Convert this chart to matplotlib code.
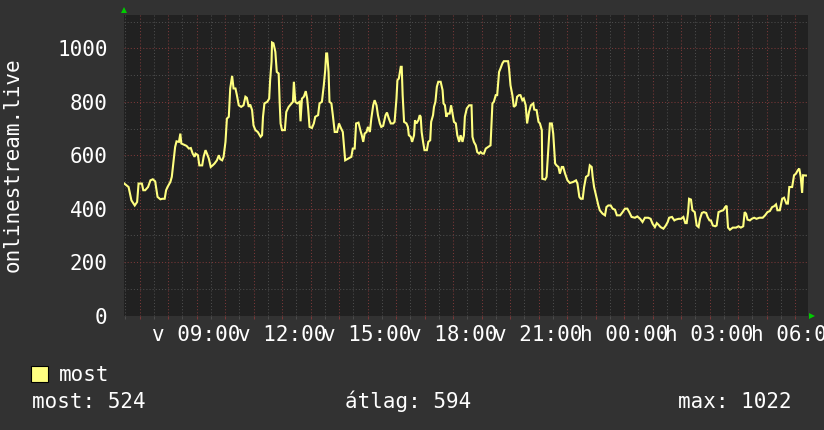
import numpy as np
import matplotlib
matplotlib.use("Agg")
import matplotlib.pyplot as plt
from matplotlib.patches import Rectangle
from matplotlib.ticker import MultipleLocator, FuncFormatter

# graph window starts at 06:28 on "v" (Sunday) and covers 24 hours
START_HOUR = 6 + 28 / 60

# minutes since start / listeners
minutes = [
    0, 9, 15, 22, 27, 30, 37, 40, 44, 50,
    55, 60, 65, 70, 76, 80, 85, 88, 91, 97,
    100, 104, 107, 110, 115, 118, 120, 125, 131, 136,
    140, 144, 148, 150, 155, 158, 164, 167, 171, 174,
    178, 182, 186, 190, 195, 199, 202, 206, 209, 213,
    216, 220, 223, 227, 230, 234, 237, 241, 246, 251,
    255, 258, 262, 265, 269, 272, 276, 281, 287, 290,
    292, 295, 301, 305, 307, 310, 311, 314, 318, 321,
    325, 327, 329, 332, 338, 341, 346, 352, 355, 357,
    360, 364, 369, 371, 374, 378, 382, 385, 387, 390,
    395, 399, 402, 408, 411, 416, 420, 423, 425, 427,
    430, 432, 436, 439, 443, 448, 452, 455, 460, 463,
    465, 471, 478, 481, 485, 488, 493, 498, 500, 503,
    506, 510, 513, 517, 520, 524, 527, 531, 534, 538,
    541, 545, 550, 553, 557, 561, 566, 569, 573, 575,
    578, 582, 584, 586, 589, 594, 597, 599, 603, 606,
    610, 612, 615, 619, 622, 624, 626, 629, 632, 637,
    640, 644, 646, 650, 652, 655, 658, 661, 666, 670,
    672, 675, 678, 681, 685, 688, 691, 694, 698, 701,
    705, 708, 712, 715, 717, 721, 726, 731, 733, 736,
    740, 743, 747, 750, 754, 757, 761, 766, 771, 775,
    778, 782, 785, 789, 792, 796, 799, 808, 810, 813,
    817, 820, 824, 827, 831, 834, 838, 841, 845, 848,
    852, 856, 861, 863, 868, 872, 875, 879, 880, 886,
    889, 893, 896, 900, 903, 907, 910, 914, 917, 921,
    924, 928, 933, 938, 945, 951, 954, 958, 961, 965,
    968, 972, 977, 980, 984, 986, 989, 993, 998, 1001,
    1007, 1012, 1015, 1019, 1024, 1028, 1033, 1037, 1044, 1049,
    1054, 1059, 1063, 1068, 1075, 1080, 1086, 1091, 1096, 1103,
    1108, 1112, 1117, 1121, 1124, 1129, 1135, 1140, 1144, 1147,
    1153, 1158, 1161, 1167, 1172, 1177, 1181, 1184, 1187, 1189,
    1193, 1196, 1201, 1205, 1209, 1212, 1216, 1220, 1225, 1228,
    1232, 1235, 1239, 1244, 1247, 1251, 1256, 1261, 1265, 1268,
    1271, 1275, 1281, 1288, 1293, 1298, 1303, 1306, 1309, 1312,
    1317, 1321, 1326, 1331, 1337, 1344, 1349, 1354, 1359, 1364,
    1368, 1372, 1375, 1380, 1385, 1389, 1394, 1397, 1400, 1406,
    1410, 1414, 1418, 1421, 1424, 1427, 1429, 1435,
]
viewers = [
    494, 481, 431, 412, 425, 494, 494, 469, 469, 481,
    506, 510, 502, 444, 435, 437, 437, 469, 481, 500,
    519, 581, 631, 652, 650, 681, 644, 640, 635, 625,
    627, 606, 594, 606, 600, 562, 562, 594, 619, 606,
    587, 556, 562, 569, 581, 600, 585, 581, 594, 650,
    737, 744, 850, 897, 850, 850, 825, 787, 781, 787,
    819, 815, 781, 790, 769, 712, 694, 687, 669, 675,
    744, 794, 800, 812, 881, 950, 1022, 1019, 987, 912,
    906, 800, 719, 694, 694, 762, 781, 794, 800, 875,
    800, 794, 800, 727, 812, 819, 840, 812, 775, 706,
    702, 719, 744, 750, 794, 800, 862, 919, 981, 981,
    912, 800, 794, 750, 687, 687, 719, 706, 687, 625,
    581, 587, 594, 625, 625, 719, 722, 687, 675, 650,
    681, 687, 706, 687, 737, 787, 806, 787, 750, 719,
    706, 710, 750, 760, 737, 719, 719, 725, 812, 881,
    887, 931, 931, 825, 725, 719, 706, 675, 669, 650,
    675, 731, 719, 731, 750, 744, 687, 650, 619, 619,
    650, 656, 725, 750, 781, 800, 856, 875, 875, 844,
    794, 787, 744, 756, 756, 787, 756, 725, 719, 675,
    650, 675, 650, 675, 744, 775, 787, 787, 669, 650,
    637, 612, 606, 612, 606, 606, 625, 631, 637, 794,
    800, 825, 825, 912, 925, 944, 952, 952, 925, 862,
    825, 781, 787, 819, 825, 825, 806, 812, 787, 719,
    762, 787, 794, 771, 769, 725, 719, 694, 512, 509,
    519, 637, 719, 719, 681, 569, 562, 556, 531, 556,
    556, 531, 506, 496, 500, 506, 494, 444, 437, 437,
    481, 519, 525, 562, 556, 519, 481, 450, 412, 394,
    381, 375, 406, 412, 412, 400, 396, 375, 375, 387,
    400, 400, 387, 369, 366, 371, 362, 350, 366, 366,
    362, 344, 331, 346, 341, 331, 325, 337, 350, 366,
    369, 356, 359, 362, 362, 369, 346, 346, 387, 437,
    434, 394, 387, 337, 331, 362, 384, 387, 384, 369,
    356, 356, 337, 334, 337, 387, 391, 394, 406, 411,
    329, 321, 329, 329, 334, 329, 334, 387, 381, 359,
    356, 362, 366, 362, 366, 366, 375, 387, 391, 406,
    409, 416, 394, 394, 437, 441, 419, 419, 481, 481,
    525, 531, 544, 550, 519, 459, 525, 524,
]

series_name = "most"
y_title = "onlinestream.live"
day_names = ["v", "h"]
stat_names = ["most", "átlag", "max"]
stat_values = [524, 594, 1022]

BACK = "#323232"
CANVAS = "#212121"
LINE = "#ffff80"
MAJOR = "#7a3838"
MINOR = "#4c4c4c"
TEXT = "#ffffff"
ARROW = "#00cc00"

W, H = 824, 430

plt.rcParams["font.family"] = ["DejaVu Sans Mono"]
plt.rcParams["font.size"] = 15


def px_box(left, top, right, bottom):
    return [left / W, 1 - bottom / H, (right - left) / W, (bottom - top) / H]


def time_label(x, pos):
    h = int(round(x))
    if h % 3:
        return ""
    return f"{day_names[h // 24]} {h % 24:02d}:00"


fig = plt.figure(figsize=(W / 100, H / 100), dpi=100, facecolor=BACK)
ax = fig.add_axes(px_box(124.3, 15, 808.3, 315.5), facecolor=CANVAS)

hours = START_HOUR + np.array(minutes) / 60
ax.plot(hours, viewers, color=LINE, lw=1.5, zorder=3, solid_joinstyle="miter")

ax.set_xlim(START_HOUR, START_HOUR + 24)
ax.set_ylim(0, 1125)

ax.xaxis.set_major_locator(MultipleLocator(1))
ax.xaxis.set_minor_locator(MultipleLocator(0.5))
ax.xaxis.set_major_formatter(FuncFormatter(time_label))
ax.yaxis.set_major_locator(MultipleLocator(200))
ax.yaxis.set_minor_locator(MultipleLocator(100))

dots = (0, (1, 2))
ax.grid(which="major", color=MAJOR, ls=dots, lw=0.75, zorder=1)
ax.grid(which="minor", color=MINOR, ls=dots, lw=0.75, zorder=1)
ax.set_axisbelow(True)

ax.tick_params(axis="x", which="major", length=2, width=0.75, color=MAJOR,
               pad=5, labelcolor=TEXT, labelsize=15)
ax.tick_params(axis="x", which="minor", length=2, width=0.75, color=MINOR)
ax.tick_params(axis="y", which="both", length=0, pad=12, labelcolor=TEXT,
               labelsize=15)

for spine in ax.spines.values():
    spine.set_visible(False)

# little green arrow heads at the axis ends
ax.plot([0], [1.015], marker="^", ms=4.5, color=ARROW, mew=0,
        transform=ax.transAxes, clip_on=False)
ax.plot([1.0055], [0], marker=">", ms=4.5, color=ARROW, mew=0,
        transform=ax.transAxes, clip_on=False)

fig.text(13 / W, 1 - 165 / H, y_title, rotation=90, ha="center",
         va="center", color=TEXT)

# legend
fig.add_artist(Rectangle((31 / W, 1 - 381.7 / H), 16.7 / W, 16 / H,
                         transform=fig.transFigure, facecolor=LINE,
                         edgecolor="black", lw=0.8))
fig.text(59 / W, 1 - 380.7 / H, series_name, va="baseline", color=TEXT)

base = 1 - 408.3 / H
fig.text(32.3 / W, base, f"{stat_names[0]}: {stat_values[0]}",
         va="baseline", ha="left", color=TEXT)
fig.text(408.5 / W, base, f"{stat_names[1]}: {stat_values[1]}",
         va="baseline", ha="center", color=TEXT)
fig.text(792 / W, base, f"{stat_names[2]}: {stat_values[2]}",
         va="baseline", ha="right", color=TEXT)

fig.savefig("out.png", dpi=100, facecolor=BACK)
